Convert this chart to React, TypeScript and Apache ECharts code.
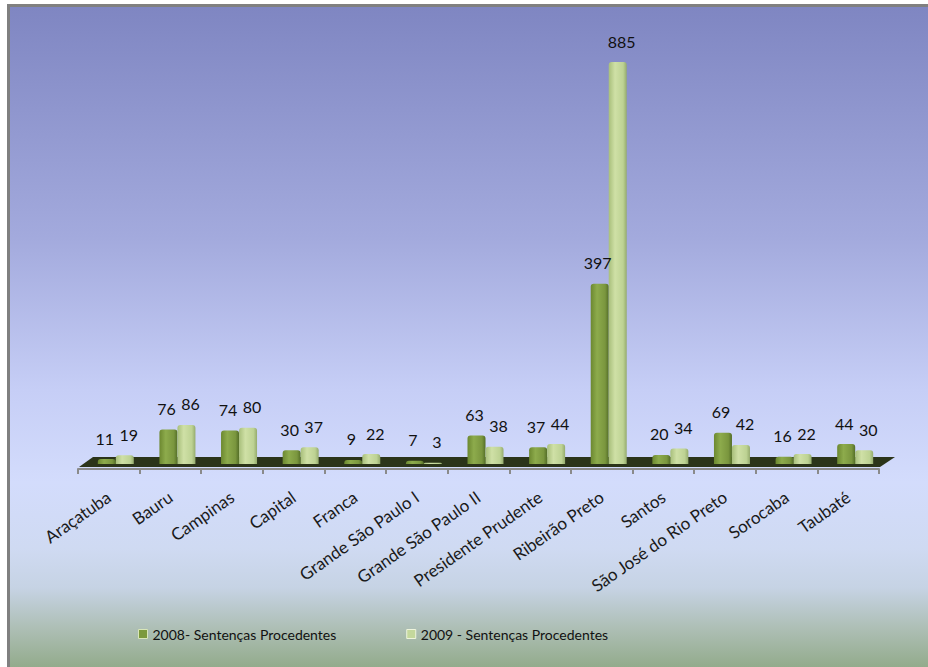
import React, { useEffect, useRef } from "react";
import * as echarts from "echarts";

const categories = [
  "Araçatuba",
  "Bauru",
  "Campinas",
  "Capital",
  "Franca",
  "Grande São Paulo I",
  "Grande São Paulo II",
  "Presidente Prudente",
  "Ribeirão Preto",
  "Santos",
  "São José do Rio Preto",
  "Sorocaba",
  "Taubaté",
];
const values2008 = [11, 76, 74, 30, 9, 7, 63, 37, 397, 20, 69, 16, 44];
const values2009 = [19, 86, 80, 37, 22, 3, 38, 44, 885, 34, 42, 22, 30];
const seriesNames = ["2008- Sentenças Procedentes", "2009 - Sentenças Procedentes"];

const FONT = "Lato, 'Noto Sans', sans-serif";

function grad(stops: [number, string][]) {
  return new echarts.graphic.LinearGradient(
    0,
    0,
    1,
    0,
    stops.map(([offset, color]) => ({ offset, color }))
  );
}

export default function App() {
  const ref = useRef<HTMLDivElement>(null);
  useEffect(() => {
    if (!ref.current) return;
    const chart = echarts.init(ref.current, null, { renderer: "svg" });
    const dark = grad([
      [0, "#6c8830"],
      [0.35, "#8dab4c"],
      [0.8, "#7a963e"],
      [1, "#546e28"],
    ]);
    const light = grad([
      [0, "#a8bf7b"],
      [0.35, "#cfe0a6"],
      [0.8, "#bdd293"],
      [1, "#95ab6d"],
    ]);
    const labelCfg = (dx: number) => ({
      show: true,
      position: "top" as const,
      distance: 13,
      offset: [dx, 0],
      fontSize: 16,
      color: "#111",
      fontFamily: FONT,
    });
    chart.setOption({
      animation: false,
      textStyle: { fontFamily: FONT },
      grid: [
        { left: 78, right: 49, top: 62, bottom: 198 },
        { left: 85, right: 42, top: 62, bottom: 203 },
      ],
      xAxis: [
        {
          type: "category",
          gridIndex: 0,
          data: categories,
          axisLine: { show: true, lineStyle: { color: "#8a8a8a", width: 2 } },
          axisTick: { show: true, length: 5, lineStyle: { color: "#8a8a8a", width: 2 } },
          axisLabel: {
            rotate: 35,
            margin: 26,
            fontSize: 17,
            color: "#1a1a1a",
            fontFamily: FONT,
            interval: 0,
          },
        },
        {
          type: "category",
          gridIndex: 1,
          data: categories,
          show: false,
        },
      ],
      yAxis: [
        { type: "value", gridIndex: 0, min: 0, max: 885, show: false },
        { type: "value", gridIndex: 1, min: 0, max: 885, show: false },
      ],
      legend: {
        left: 133,
        top: 622,
        itemWidth: 9,
        itemHeight: 9,
        itemGap: 70,
        icon: "rect",
        textStyle: { fontSize: 14, color: "#111", fontFamily: FONT },
        data: [
          { name: seriesNames[0], itemStyle: { color: "#7c9a3c", borderColor: "#d8e6b8", borderWidth: 1 } },
          { name: seriesNames[1], itemStyle: { color: "#c4d89c", borderColor: "#eef4dc", borderWidth: 1 } },
        ],
      },
      graphic: {
        elements: [
          {
            type: "polygon",
            z: 0,
            shape: {
              points: [
                [79, 467],
                [93, 457],
                [895, 457],
                [880, 467],
              ],
            },
            style: { fill: "#2b3419" },
          },
        ],
      },
      series: [
        {
          name: seriesNames[0],
          type: "bar",
          xAxisIndex: 1,
          yAxisIndex: 1,
          data: values2008,
          barWidth: 18,
          barGap: "0%",
          z: 3,
          itemStyle: { color: dark, borderRadius: [3, 3, 0, 0] },
          label: labelCfg(-2),
        },
        {
          name: seriesNames[1],
          type: "bar",
          xAxisIndex: 1,
          yAxisIndex: 1,
          data: values2009,
          barWidth: 18,
          barGap: "0%",
          z: 3,
          itemStyle: { color: light, borderRadius: [3, 3, 0, 0] },
          label: labelCfg(4),
        },
      ],
    });
    return () => chart.dispose();
  }, []);

  return (
    <div style={{ position: "absolute", left: 0, top: 0, width: 928, height: 667, background: "#fff" }}>
      <div
        style={{
          position: "absolute",
          left: 7,
          top: 4,
          width: 921,
          height: 663,
          boxSizing: "border-box",
          borderLeft: "3px solid #808080",
          borderTop: "3px solid #808080",
          background:
            "linear-gradient(to bottom, #7f86c2 0%, #a3aadd 35%, #c6cef6 58%, #d3dcfc 72%, #cfdaf2 82%, #c6d3e4 88%, #aebfb6 94%, #93ab8c 100%)",
        }}
      />
      <div ref={ref} style={{ position: "absolute", left: 0, top: 0, width: 928, height: 667 }} />
    </div>
  );
}
